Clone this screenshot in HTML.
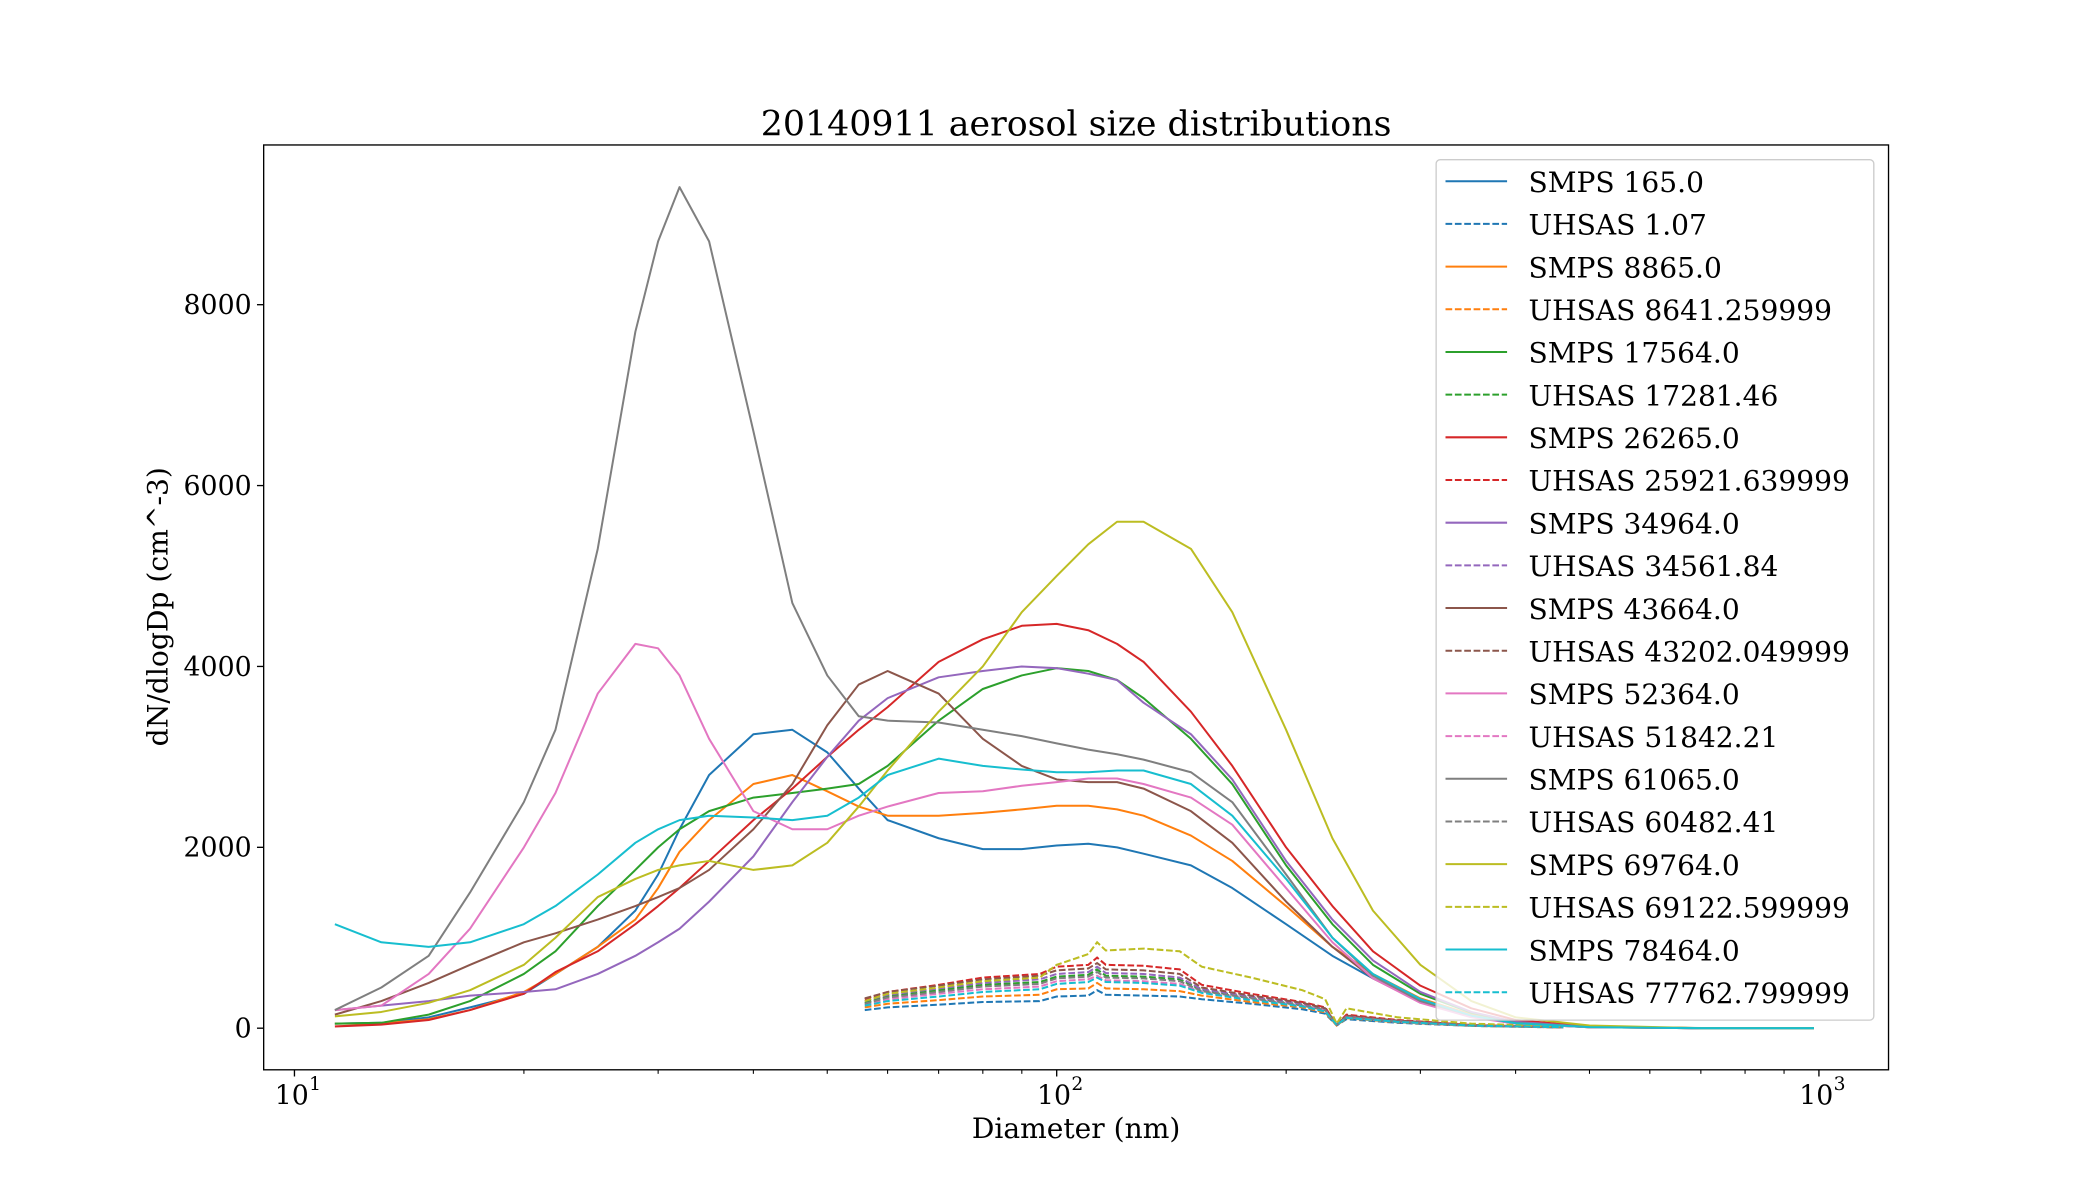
<!DOCTYPE html>
<html><head><meta charset="utf-8"><style>
html,body{margin:0;padding:0;background:#fff;}
svg{display:block;font-family:"DejaVu Serif","Liberation Serif",serif;}
</style></head><body>
<svg id="chart" width="2100" height="1200" viewBox="0 0 1569 894" preserveAspectRatio="none" xmlns="http://www.w3.org/2000/svg">
<rect x="0" y="0" width="1569" height="894" fill="#fff"/>
<text x="804" y="101" font-size="26" text-anchor="middle">20140911 aerosol size distributions</text>
<g id="plot"></g>
<rect x="197" y="108" width="1214" height="689" fill="none" stroke="#000" stroke-width="1"/>
<text x="804" y="848" font-size="21" text-anchor="middle">Diameter (nm)</text>
<text transform="translate(125,452) rotate(-90)" font-size="21" text-anchor="middle">dN/dlogDp (cm^-3)</text>
<g id="axes"></g>
<g id="legend"></g>
</svg>
<script>
const smpsD=[11.3,13,15,17,20,22,25,28,30,32,35,40,45,50,55,60,70,80,90,100,110,120,130,150,170,200,230,260,300,350,400,500,700,985];
const uhsasD=[56,60,70,80,95,100,110,113,116,130,145,155,180,210,225,233,240,280,350,462];
const seriesNames=["SMPS 165.0","UHSAS 1.07","SMPS 8865.0","UHSAS 8641.259999","SMPS 17564.0","UHSAS 17281.46","SMPS 26265.0","UHSAS 25921.639999","SMPS 34964.0","UHSAS 34561.84","SMPS 43664.0","UHSAS 43202.049999","SMPS 52364.0","UHSAS 51842.21","SMPS 61065.0","UHSAS 60482.41","SMPS 69764.0","UHSAS 69122.599999","SMPS 78464.0","UHSAS 77762.799999"];
const colors=["#1f77b4","#ff7f0e","#2ca02c","#d62728","#9467bd","#8c564b","#e377c2","#7f7f7f","#bcbd22","#17becf"];
const smpsBlue=[50,60,120,230,380,600,900,1300,1700,2200,2800,3250,3300,3050,2650,2300,2100,1980,1980,2020,2040,2000,1930,1800,1550,1150,800,550,300,130,50,10,0,0];
const smpsOrange=[50,50,100,200,400,600,900,1200,1550,1950,2300,2700,2800,2620,2450,2350,2350,2380,2420,2460,2460,2420,2350,2130,1850,1350,900,600,330,150,60,10,0,0];
const smpsGreen=[50,60,150,300,600,850,1350,1750,2000,2200,2400,2550,2600,2650,2700,2900,3400,3750,3900,3980,3950,3850,3650,3200,2700,1800,1150,700,380,170,70,15,0,0];
const smpsRed=[20,40,90,200,380,620,850,1150,1350,1550,1850,2300,2650,3000,3300,3550,4050,4300,4450,4470,4400,4250,4050,3500,2900,2000,1350,850,470,220,90,20,0,0];
const smpsPurple=[200,250,300,360,400,430,600,800,950,1100,1400,1900,2500,3000,3400,3650,3880,3950,4000,3980,3920,3850,3600,3250,2750,1850,1200,750,400,180,70,15,0,0];
const smpsBrown=[150,300,500,700,950,1050,1200,1350,1450,1550,1750,2200,2700,3350,3800,3950,3700,3200,2900,2750,2720,2720,2650,2400,2050,1400,900,550,290,130,50,10,0,0];
const smpsPink=[200,250,600,1100,2000,2600,3700,4250,4200,3900,3200,2400,2200,2200,2350,2450,2600,2620,2680,2720,2760,2760,2700,2550,2250,1550,950,550,280,120,50,10,0,0];
const smpsGray=[200,450,800,1500,2500,3300,5300,7700,8700,9300,8700,6600,4700,3900,3450,3400,3380,3300,3230,3150,3080,3030,2970,2830,2500,1700,1000,580,300,140,60,15,2,0];
const smpsOlive=[130,180,280,420,700,1000,1450,1650,1750,1800,1850,1750,1800,2050,2450,2850,3500,4000,4600,5000,5350,5600,5600,5300,4600,3300,2100,1300,700,300,120,30,0,0];
const smpsCyan=[1150,950,900,950,1150,1350,1700,2050,2200,2300,2350,2330,2300,2350,2550,2800,2980,2900,2860,2830,2830,2850,2850,2700,2350,1650,1000,600,320,140,55,12,0,0];
const uhsasBlue=[200,230,260,290,300,350,360,420,370,360,350,320,270,210,160,30,100,60,25,8];
const uhsasOrange=[230,270,310,350,370,430,440,500,440,430,410,360,290,230,175,30,110,65,25,8];
const uhsasGreen=[280,350,420,480,510,570,590,650,580,570,540,420,340,260,200,40,130,75,30,10];
const uhsasRed=[320,400,480,560,600,680,700,780,700,690,650,480,380,290,230,40,150,90,35,10];
const uhsasPurple=[300,370,440,500,540,600,620,680,610,600,560,430,350,270,210,40,130,80,30,10];
const uhsasBrown=[330,400,470,540,580,640,660,720,650,640,600,450,360,280,220,40,140,85,35,10];
const uhsasPink=[260,320,380,430,460,520,540,580,530,520,490,400,320,250,190,35,120,70,28,10];
const uhsasGray=[270,340,400,460,490,550,570,620,560,550,520,410,330,250,200,35,125,75,30,10];
const uhsasOlive=[300,380,450,520,560,700,820,950,860,880,850,680,560,420,320,50,220,120,50,20];
const uhsasCyan=[250,300,350,400,430,490,510,560,510,500,470,390,310,240,185,35,115,70,28,10];
const yTicks=[0,2000,4000,6000,8000];
const xMajor=[10,100,1000];
const xMajorLabels=["1","2","3"];

const smpsAll=[smpsBlue,smpsOrange,smpsGreen,smpsRed,smpsPurple,smpsBrown,smpsPink,smpsGray,smpsOlive,smpsCyan];
const uhsasAll=[uhsasBlue,uhsasOrange,uhsasGreen,uhsasRed,uhsasPurple,uhsasBrown,uhsasPink,uhsasGray,uhsasOlive,uhsasCyan];
const NS="http://www.w3.org/2000/svg";
const xs=d=>220+569.5*(Math.log10(d)-1);
const ys=v=>766-v*0.067375;
const plot=document.getElementById('plot');
const axes=document.getElementById('axes');
const legend=document.getElementById('legend');
function mk(tag,attrs,parent){const e=document.createElementNS(NS,tag);for(const k in attrs)e.setAttribute(k,attrs[k]);parent.appendChild(e);return e;}
for(let i=0;i<10;i++){
  let p=smpsD.map((d,j)=>xs(d).toFixed(1)+','+ys(smpsAll[i][j]).toFixed(1)).join(' ');
  const s=mk('polyline',{points:p,fill:'none',stroke:colors[i],'stroke-width':1.5,'stroke-linejoin':'round'},plot);
  
  
  p=uhsasD.map((d,j)=>xs(d).toFixed(1)+','+ys(uhsasAll[i][j]).toFixed(1)).join(' ');
  const u=mk('polyline',{points:p,fill:'none',stroke:colors[i],'stroke-width':1.5,'stroke-dasharray':'5,2'},plot);
  
  
}
yTicks.forEach(v=>{
  const y=ys(v);
  mk('line',{x1:192,x2:197,y1:y,y2:y,stroke:'#000','stroke-width':1},axes);
  const t=mk('text',{x:188,y:y+7,'font-size':20,'text-anchor':'end'},axes);
  t.textContent=v;
  
  
});
xMajor.forEach((d,i)=>{
  const x=xs(d);
  mk('line',{x1:x,x2:x,y1:797,y2:802,stroke:'#000','stroke-width':1},axes);
  const t=mk('text',{x:x-2,y:823,'font-size':20,'text-anchor':'middle'},axes);
  t.textContent='10';
  
  
  const s=mk('text',{x:x+11,y:812,'font-size':14},axes);
  s.textContent=xMajorLabels[i];
});
[10,100].forEach(b=>{for(let m=2;m<10;m++){const x=xs(b*m);mk('line',{x1:x,x2:x,y1:797,y2:800,stroke:'#000','stroke-width':0.8},axes);}});
const lb=mk('rect',{x:1073,y:119,width:327,height:641,rx:3,fill:'#fff','fill-opacity':0.8,stroke:'#ccc','stroke-width':1},legend);


seriesNames.forEach((n,i)=>{
  const y=135+i*31.8;
  const g=mk('g',{},legend);
  
  
  const a={x1:1080,x2:1126,y1:y,y2:y,stroke:colors[Math.floor(i/2)],'stroke-width':1.5};
  if(i%2)a['stroke-dasharray']='5,2';
  mk('line',a,g);
  const t=mk('text',{x:1142,y:y+8,'font-size':21},g);
  t.textContent=n;
});
</script>
</body></html>
